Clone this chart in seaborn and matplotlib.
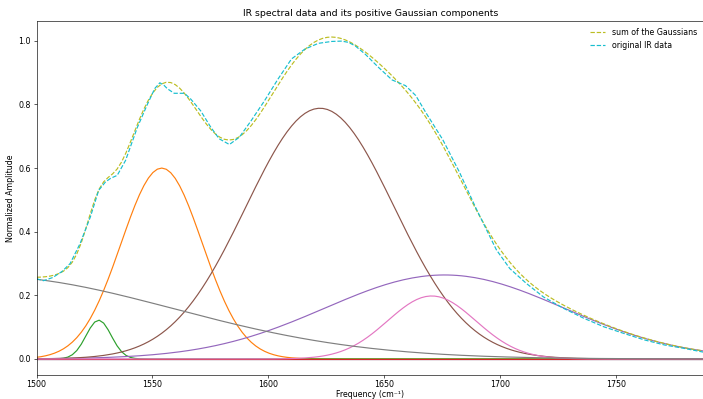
import numpy as np
import pandas as pd
import matplotlib
matplotlib.use("Agg")
import matplotlib.pyplot as plt
import seaborn as sns

# Gaussian component parameters (one per colour, matplotlib default cycle order)
comp_amplitude = [0.0, 0.600, 0.122, 0.0, 0.264, 0.788, 0.198, 0.261]
comp_center    = [1600.0, 1554.0, 1526.8, 1600.0, 1676.0, 1622.3, 1670.5, 1476.0]
comp_width     = [10.0, 17.5, 5.4, 10.0, 51.5, 32.0, 19.0, 83.0]
comp_colors    = ["C0", "C1", "C2", "C3", "C4", "C5", "C6", "C7"]

# Original IR data
ir_freq = [1500, 1503, 1507, 1511, 1514.5, 1518.8, 1523.2, 1526.8, 1529.7, 1532,
           1534.8, 1538.4, 1543.5, 1547.8, 1551, 1553.2, 1555, 1556.5, 1559.4, 1563.8,
           1566.5, 1570.8, 1575.2, 1578.8, 1583.2, 1587.5, 1592.6, 1598.4, 1604.2, 1610,
           1615.8, 1621.6, 1627.4, 1631.7, 1634.6, 1637.5, 1641.8, 1647.6, 1653.4, 1659.2,
           1663.6, 1667.9, 1675.2, 1682.4, 1689.7, 1698.4, 1704.2, 1711.4, 1718.7, 1727.4,
           1736.1, 1744.8, 1753.5, 1762.2, 1770.9, 1779.6, 1788]
ir_amp = [0.252, 0.246, 0.256, 0.275, 0.300, 0.363, 0.446, 0.530, 0.556, 0.568,
          0.577, 0.624, 0.728, 0.800, 0.850, 0.868, 0.860, 0.849, 0.835, 0.835,
          0.817, 0.780, 0.728, 0.692, 0.674, 0.697, 0.749, 0.812, 0.880, 0.943,
          0.974, 0.992, 0.998, 0.999, 0.995, 0.984, 0.958, 0.916, 0.877, 0.859,
          0.828, 0.775, 0.690, 0.588, 0.472, 0.343, 0.284, 0.237, 0.195, 0.159,
          0.128, 0.101, 0.080, 0.060, 0.044, 0.033, 0.021]

freq_grid = np.arange(1500.0, 1790.0, 1.93)

DPI = 56.5
fig = plt.figure(figsize=(703 / DPI, 399 / DPI), dpi=DPI)
ax = fig.add_axes([0.052, 0.060, 0.9495, 0.888])

total = np.zeros_like(freq_grid)
for a, mu, s, c in zip(comp_amplitude, comp_center, comp_width, comp_colors):
    y = a * np.exp(-(freq_grid - mu) ** 2 / (2 * s ** 2))
    total += y
    sns.lineplot(x=freq_grid, y=y, color=c, ax=ax, legend=False, linewidth=1.5)

sns.lineplot(x=freq_grid, y=total, color="C8", linestyle="--", ax=ax,
             label="sum of the Gaussians", linewidth=1.5)
sns.lineplot(x=ir_freq, y=ir_amp, color="C9", linestyle="--", ax=ax,
             label="original IR data", linewidth=1.5)

ax.set_xlim(1500, 1788)
ax.set_ylim(-0.0506, 1.063)
ax.set_title("IR spectral data and its positive Gaussian components")
ax.set_xlabel("Frequency (cm\u207b\u00b9)", labelpad=1)
ax.set_ylabel("Normalized Amplitude")
ax.tick_params(axis="x", pad=2.5)
ax.legend(loc="upper right", frameon=False)

fig.savefig("out.png", dpi=DPI)
